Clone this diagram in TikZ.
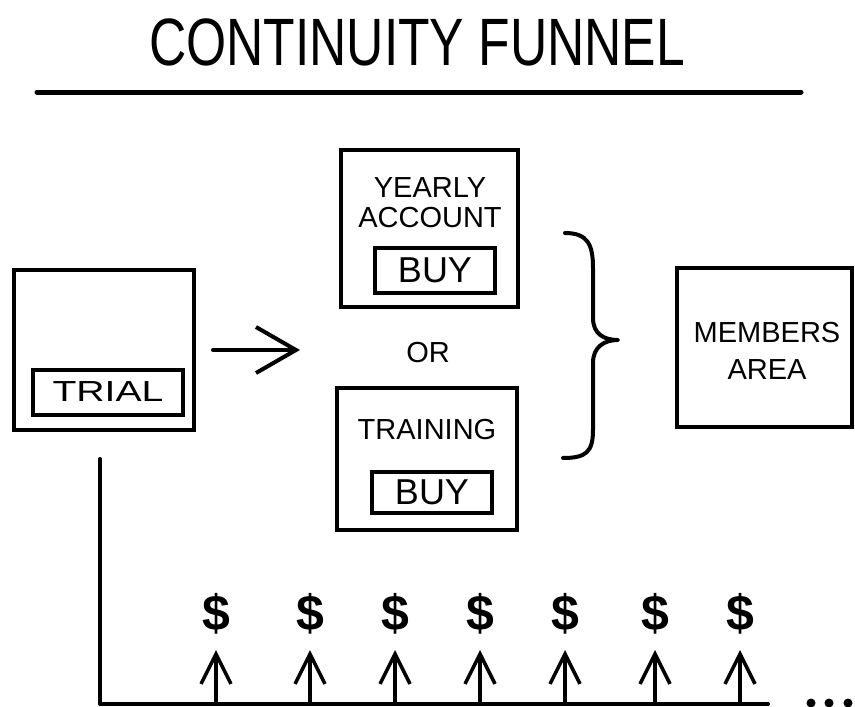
\documentclass[tikz,border=0pt]{standalone}
\usepackage{fontspec}
\setmainfont{Liberation Sans}
\usetikzlibrary{arrows.meta}
\begin{document}
\begin{tikzpicture}[x=1pt,y=-1pt,
  box/.style={draw=black, line width=4pt, minimum width=#1, inner sep=0pt},
  lbl/.style={font=\fontsize{29}{30}\selectfont, inner sep=0pt},
  btnlbl/.style={font=\fontsize{36}{36}\selectfont, inner sep=0pt},
  dollar/.style={font=\bfseries\fontsize{50}{50}\selectfont, inner sep=0pt},
  conn/.style={line width=4pt, line cap=round, line join=round},
  uparrow/.style={line width=3.5pt, line cap=round, -{Straight Barb[length=30pt, width=30pt, line width=3.5pt]}},
  mainarrow/.style={line width=4pt, line cap=round, -{Straight Barb[length=40pt, width=46pt, line width=4pt]}}
]
\useasboundingbox (0,0) rectangle (855,707);

% title
\node[inner sep=0pt, anchor=base] (title) at (417,65)
  {\scalebox{0.77}[1]{\fontsize{67}{67}\selectfont CONTINUITY FUNNEL}};
\coordinate (ulL) at (37,92);
\coordinate (ulR) at (801,92);
\draw[conn, line width=5pt] (ulL) -- (ulR);

% trial
\node[box=180pt, minimum height=160pt] (trial) at (104,350) {};
\node[box=150pt, minimum height=45pt] (trialbtn) at (108,392) {};
\node[lbl] (triallbl) at (trialbtn) {\scalebox{1.35}[1]{TRIAL}};

% arrow
\coordinate (arS) at (213,350);
\coordinate (arE) at (300,350);
\draw[mainarrow] (arS) -- (arE);

% yearly
\node[box=177pt, minimum height=157pt] (yearly) at (429.5,228.5) {};
\node[lbl] (ylbl1) at (430,188) {YEARLY};
\node[lbl] (ylbl2) at (430,218) {ACCOUNT};
\node[box=120pt, minimum height=45pt] (ybuy) at (435,270.5) {};
\node[btnlbl] (ybuylbl) at (ybuy) {BUY};

% or
\node[lbl] (or) at (428,353) {OR};

% training
\node[box=180pt, minimum height=142pt] (training) at (427,459) {};
\node[lbl] (tlbl) at (427,430) {TRAINING};
\node[box=120pt, minimum height=41pt] (tbuy) at (432,492.5) {};
\node[btnlbl] (tbuylbl) at (tbuy) {BUY};

% brace
\draw[conn] (565,233) .. controls (588,233) and (593,245) .. (593,268)
  -- (593,318) .. controls (593,334) and (604,340) .. (618,340)
  .. controls (604,340) and (593,347) .. (593,363)
  -- (593,430) .. controls (593,452) and (586,458) .. (563,458);

% members
\node[box=175pt, minimum height=159pt] (members) at (764.5,347.5) {};
\node[lbl] (mlbl1) at (767,333) {MEMBERS};
\node[lbl] (mlbl2) at (767,370) {AREA};

% timeline
\coordinate (vtop) at (100,459);
\coordinate (corner) at (100,704);
\coordinate (axend) at (768,704);
\draw[conn] (vtop) -- (corner) -- (axend);

\foreach \i/\x in {1/216,2/310,3/395,4/480,5/565,6/655,7/740} {
  \node[dollar] (d\i) at (\x,614) {\$};
  \coordinate (f\i) at (\x,704);
  \coordinate (h\i) at (\x,650);
  \draw[uparrow] (f\i) -- (h\i);
}

% dots
\fill (811,703) circle (4.5pt);
\fill (829,703) circle (4.5pt);
\fill (848,703) circle (4.5pt);
\end{tikzpicture}
\end{document}
